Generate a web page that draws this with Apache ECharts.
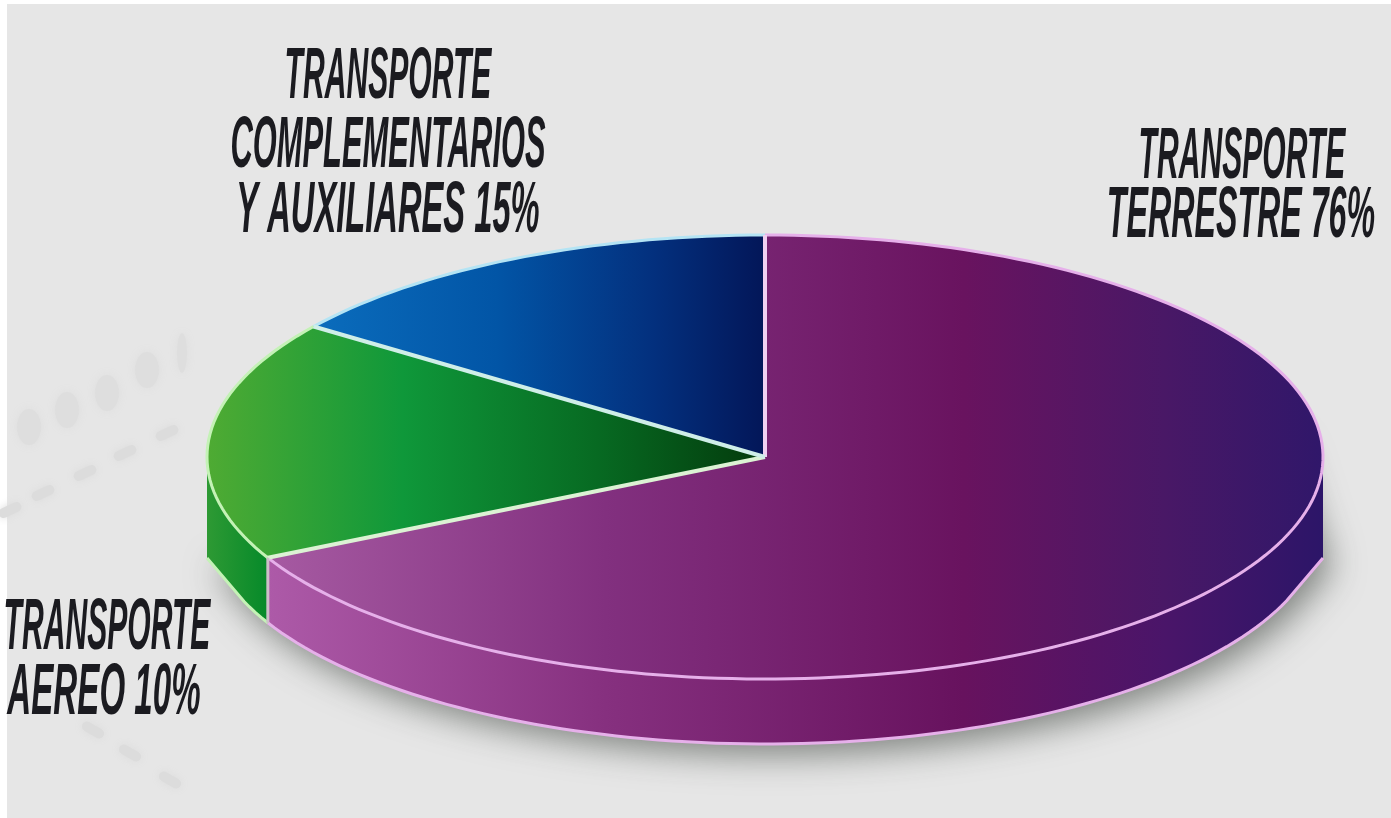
<!DOCTYPE html>
<html><head><meta charset="utf-8">
<style>html,body{margin:0;padding:0;background:#e6e6e6}#c{width:1391px;height:818px;filter:blur(0.7px)}</style>
<script src="https://cdn.jsdelivr.net/npm/echarts@6/dist/echarts.min.js"></script>
</head><body><div id="c"></div>
<script>
// Data: shares are the slice sizes as drawn in the picture, clockwise from 12 o'clock.
const sliceNames = ['TRANSPORTE TERRESTRE', 'TRANSPORTE AEREO', 'TRANSPORTE COMPLEMENTARIOS Y AUXILIARES'];
const sliceShares = [67.5, 17.5, 15];
const statedPercents = [76, 10, 15];
const labelLines = [
  ['TRANSPORTE', 'TERRESTRE ' + statedPercents[0] + '%'],
  ['TRANSPORTE', 'AEREO ' + statedPercents[1] + '%'],
  ['TRANSPORTE', 'COMPLEMENTARIOS', 'Y AUXILIARES ' + statedPercents[2] + '%']
];

// Layout and styles
const CX = 765, CY = 457, RX = 558, RY = 222, DEPTH = 65, SIDE_EXTRA = 36;
const total = sliceShares.reduce((a, b) => a + b, 0);
const starts = sliceShares.reduce((acc, v, i) => { acc.push(acc[i] + v / total * 360); return acc; }, [0]);
const topStops = [
  { x0: 268, x1: 1322, stops: [[0, '#a65aa2'], [0.32, '#82307f'], [0.66, '#69135f'], [0.85, '#491866'], [1, '#30176a']] },
  { x0: 207, x1: 765, stops: [[0, '#4fab33'], [0.35, '#0f983a'], [0.7, '#076a22'], [1, '#033a0c']] },
  { x0: 318, x1: 765, stops: [[0, '#0a6cbc'], [0.4, '#0255a6'], [0.75, '#03307e'], [1, '#031658']] }
];
const wallStops = [
  { x0: 268, x1: 1322, stops: [[0, '#ad5aa8'], [0.32, '#86307f'], [0.66, '#67125e'], [0.85, '#4a1569'], [1, '#2c1568']] },
  { x0: 205, x1: 266, stops: [[0, '#2f9a34'], [1, '#078a2a']] },
  null
];
const rimColors = ['#e6b0ea', '#c4f2b6', '#b4e4f4'];
const labelBoxes = [
  { xs: [1242, 1241], ys: [158, 217], scales: [0.418, 0.447] },
  { xs: [107, 104], ys: [629, 694], scales: [0.418, 0.46] },
  { xs: [388, 388, 388], ys: [78, 147, 212], scales: [0.418, 0.429, 0.454] }
];
const pt = (deg, dy) => {
  const t = deg * Math.PI / 180;
  return [CX + RX * Math.sin(t), CY + (dy || 0) - RY * Math.cos(t)];
};
const arc = (a, b, dy) => {
  const out = [], n = Math.max(2, Math.ceil((b - a) / 1.5));
  for (let i = 0; i <= n; i++) out.push(pt(a + (b - a) * i / n, dy));
  return out;
};
// lower edge of the wall: the source is chamfered towards a corner at both far sides
const lowerArc = (a, b) => {
  const out = [], n = Math.max(2, Math.ceil((b - a) / 1.5));
  for (let i = 0; i <= n; i++) {
    const d = a + (b - a) * i / n, s = Math.abs(Math.sin(d * Math.PI / 180));
    const atSide = s > 0.9999;
    if (i === 0 || i === n || s < 0.94) out.push(pt(d, atSide ? DEPTH + SIDE_EXTRA : DEPTH));
  }
  return out;
};
const grad = g => new echarts.graphic.LinearGradient(g.x0, 0, g.x1, 0, g.stops.map(s => ({ offset: s[0], color: s[1] })), true);

const decor = [];
decor.push({ type: 'rect', shape: { x: 7, y: 4, width: 1384, height: 814 }, style: { fill: '#e6e6e6' }, silent: true, z: -1 });
[[29,427],[67,410],[107,393],[147,370],[182,353]].forEach((p, i) => decor.push({
  type: 'ellipse', shape: { cx: p[0], cy: p[1], rx: i === 4 ? 5 : 12, ry: i === 4 ? 20 : 18 },
  style: { fill: '#dedede', shadowBlur: 10, shadowColor: '#dedede' }, silent: true, z: 0
}));
[[10,510,-25],[43,493,-25],[85,473,-25],[125,453,-25],[167,433,-25],[93,730,30],[130,753,30],[170,780,30]].forEach(p => decor.push({
  type: 'rect', x: p[0], y: p[1], rotation: -p[2] * Math.PI / 180,
  shape: { x: -12, y: -5, width: 24, height: 10, r: 5 },
  style: { fill: '#dcdcdc', shadowBlur: 8, shadowColor: '#dcdcdc' }, silent: true, z: 0
}));

const option = {
  animation: false,
  backgroundColor: '#ffffff',
  graphic: decor,
  series: [
    { // soft shadow under the disc
      type: 'custom', coordinateSystem: 'none', z: 1, silent: true,
      data: [total],
      renderItem: () => ({
        type: 'polygon',
        shape: { points: lowerArc(60, 90).concat(lowerArc(90, 270)) },
        style: { fill: '#b8bcb8', shadowBlur: 34, shadowColor: 'rgba(115,120,115,0.9)', shadowOffsetX: 8, shadowOffsetY: 11 }
      })
    },
    { // slices
      type: 'custom', coordinateSystem: 'none', z: 2, silent: true,
      data: sliceShares.map((v, i) => ({ name: sliceNames[i], value: v })),
      renderItem: (params, api) => {
        const i = params.dataIndex, a = starts[i], b = a + api.value(0) / total * 360;
        const children = [];
        const wa = Math.max(a, 90), wb = Math.min(b, 270);
        if (wb > wa && wallStops[i]) {
          const upper = arc(wa, wb, 0), lower = lowerArc(wa, wb);
          children.push({ type: 'polygon', shape: { points: upper.concat(lower.slice().reverse()) }, style: { fill: grad(wallStops[i]) } });
          children.push({ type: 'polyline', shape: { points: lower }, style: { fill: null, stroke: rimColors[i], lineWidth: 3 } });
        }
        const pts = [[CX, CY]].concat(arc(a, b, 0));
        children.push({ type: 'polygon', shape: { points: pts }, style: { fill: grad(topStops[i]) } });
        children.push({ type: 'polyline', shape: { points: arc(a, b, 0) }, style: { fill: null, stroke: rimColors[i], lineWidth: 3 } });
        return { type: 'group', children };
      }
    },
    { // separators between slices and the wall seam
      type: 'custom', coordinateSystem: 'none', z: 3, silent: true,
      data: sliceShares.map((v, i) => i),
      renderItem: (params) => {
        const i = params.dataIndex, deg = starts[i];
        const kids = [{ type: 'line', shape: { x1: CX, y1: CY, x2: pt(deg)[0], y2: pt(deg)[1] },
          style: { stroke: ['#f0d0f0', '#dcf2d4', '#cfeee8'][i], lineWidth: 4 } }];
        if (i === 1) kids.push({ type: 'line', shape: { x1: pt(deg)[0], y1: pt(deg)[1], x2: pt(deg, DEPTH)[0], y2: pt(deg, DEPTH)[1] },
          style: { stroke: '#cdbfc9', lineWidth: 3 } });
        return { type: 'group', children: kids };
      }
    },
    { // labels
      type: 'custom', coordinateSystem: 'none', z: 4, silent: true,
      data: labelLines.map((l, i) => i),
      renderItem: (params) => {
        const i = params.dataIndex, box = labelBoxes[i];
        return { type: 'group', children: labelLines[i].map((t, k) => ({
          type: 'text', x: box.xs[k], y: box.ys[k], scaleX: box.scales[k],
          style: { text: t, fill: '#1b1b20', align: 'center', verticalAlign: 'middle',
            font: 'italic bold 72px "Liberation Sans Narrow", "Liberation Sans", sans-serif' }
        })) };
      }
    }
  ]
};
const chart = echarts.init(document.getElementById('c'), null, { renderer: 'canvas', width: 1391, height: 818 });
chart.setOption(option);
</script></body></html>
